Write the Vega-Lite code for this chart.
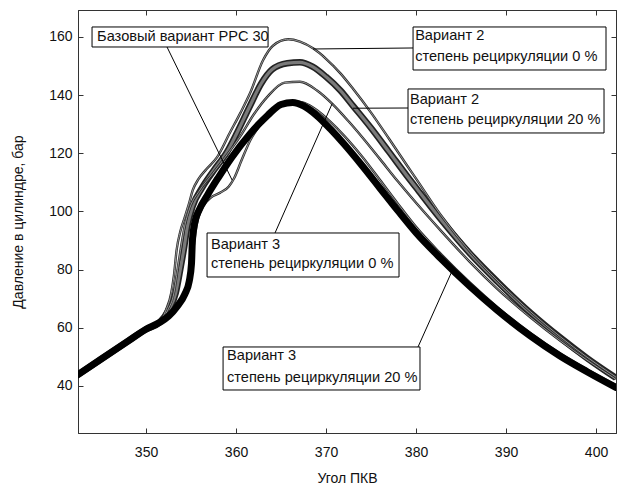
{
  "$schema": "https://vega.github.io/schema/vega-lite/v6.json",
  "width": 538,
  "height": 423,
  "autosize": {"type": "none"},
  "padding": {"left": 78, "top": 10, "right": 9, "bottom": 53},
  "background": "white",
  "config": {
    "view": {"stroke": "#333", "strokeWidth": 1},
    "font": "Liberation Sans",
    "axis": {"grid": false, "domainColor": "#333", "tickColor": "#333", "labelColor": "#111", "titleColor": "#111", "labelFontSize": 14, "titleFontSize": 14, "titleFontWeight": "normal", "labelFont": "Liberation Sans", "titleFont": "Liberation Sans"}
  },
  "datasets": {
    "curves": [
      {"s":"v3_20","a":342.4,"p":43.8},{"s":"v3_20","a":345,"p":49.2},{"s":"v3_20","a":348,"p":55.4},{"s":"v3_20","a":350,"p":59.5},{"s":"v3_20","a":351.5,"p":61.8},
      {"s":"v3_20","a":352.5,"p":64},{"s":"v3_20","a":353.5,"p":67.5},{"s":"v3_20","a":354.3,"p":71.5},{"s":"v3_20","a":354.8,"p":76},{"s":"v3_20","a":355.05,"p":82},{"s":"v3_20","a":355.15,"p":90},{"s":"v3_20","a":355.4,"p":96},{"s":"v3_20","a":355.9,"p":100.5},{"s":"v3_20","a":356.8,"p":105.5},{"s":"v3_20","a":358,"p":111.5},{"s":"v3_20","a":359.5,"p":118.5},{"s":"v3_20","a":361.5,"p":126.5},{"s":"v3_20","a":363.5,"p":133},{"s":"v3_20","a":365,"p":136.8},{"s":"v3_20","a":366.3,"p":137.5},{"s":"v3_20","a":367.5,"p":136.3},{"s":"v3_20","a":369,"p":132.9},{"s":"v3_20","a":370.5,"p":128.3},{"s":"v3_20","a":372,"p":123.2},{"s":"v3_20","a":374,"p":115.8},{"s":"v3_20","a":376,"p":108},{"s":"v3_20","a":378,"p":100.2},{"s":"v3_20","a":380,"p":92.7},{"s":"v3_20","a":382.7,"p":84},{"s":"v3_20","a":386,"p":74.2},{"s":"v3_20","a":389,"p":66.1},{"s":"v3_20","a":392.7,"p":57.2},{"s":"v3_20","a":396,"p":50.3},{"s":"v3_20","a":399,"p":44.9},{"s":"v3_20","a":402.2,"p":39.5},

      {"s":"v2_20","a":342.4,"p":43.8},{"s":"v2_20","a":345,"p":49.2},{"s":"v2_20","a":348,"p":55.4},{"s":"v2_20","a":350,"p":59.5},{"s":"v2_20","a":351.5,"p":61.8},
      {"s":"v2_20","a":352.5,"p":66},{"s":"v2_20","a":353.3,"p":72},{"s":"v2_20","a":353.8,"p":80},{"s":"v2_20","a":354.2,"p":87},{"s":"v2_20","a":354.6,"p":95},{"s":"v2_20","a":355.2,"p":102},{"s":"v2_20","a":356.2,"p":108},{"s":"v2_20","a":357.5,"p":114},{"s":"v2_20","a":359,"p":120.5},{"s":"v2_20","a":360.1,"p":127},{"s":"v2_20","a":361.5,"p":136},{"s":"v2_20","a":362.8,"p":144},{"s":"v2_20","a":364,"p":148.8},{"s":"v2_20","a":365.7,"p":151},{"s":"v2_20","a":367.1,"p":151.3},{"s":"v2_20","a":368.5,"p":149.8},{"s":"v2_20","a":370,"p":146.3},{"s":"v2_20","a":371.6,"p":141.6},{"s":"v2_20","a":373,"p":136.3},{"s":"v2_20","a":375,"p":128.7},{"s":"v2_20","a":377,"p":120.5},{"s":"v2_20","a":379,"p":112.2},{"s":"v2_20","a":380,"p":108.2},{"s":"v2_20","a":382.7,"p":97.5},{"s":"v2_20","a":386,"p":85.5},{"s":"v2_20","a":389,"p":76},{"s":"v2_20","a":392.7,"p":65.2},{"s":"v2_20","a":396,"p":56.7},{"s":"v2_20","a":399,"p":49.6},{"s":"v2_20","a":402.2,"p":42.8},

      {"s":"v2_0","a":342.4,"p":43.8},{"s":"v2_0","a":345,"p":49.2},{"s":"v2_0","a":348,"p":55.4},{"s":"v2_0","a":350,"p":59.5},{"s":"v2_0","a":351.5,"p":61.8},
      {"s":"v2_0","a":352.2,"p":66},{"s":"v2_0","a":352.8,"p":72},{"s":"v2_0","a":353.1,"p":78},{"s":"v2_0","a":353.4,"p":86.8},{"s":"v2_0","a":353.8,"p":93},{"s":"v2_0","a":354.3,"p":98},{"s":"v2_0","a":354.8,"p":103},{"s":"v2_0","a":355.2,"p":107.4},{"s":"v2_0","a":355.8,"p":111},{"s":"v2_0","a":356.7,"p":114.5},{"s":"v2_0","a":357.9,"p":118.7},{"s":"v2_0","a":359.3,"p":127},{"s":"v2_0","a":360.5,"p":134},{"s":"v2_0","a":361.6,"p":141},{"s":"v2_0","a":363,"p":152},{"s":"v2_0","a":364.1,"p":157},{"s":"v2_0","a":365.8,"p":159.2},{"s":"v2_0","a":367.1,"p":158.4},{"s":"v2_0","a":368.6,"p":156},{"s":"v2_0","a":370,"p":152.5},{"s":"v2_0","a":371.6,"p":147.5},{"s":"v2_0","a":373,"p":142.2},{"s":"v2_0","a":375,"p":134},{"s":"v2_0","a":377,"p":125},{"s":"v2_0","a":379,"p":115.8},{"s":"v2_0","a":380,"p":111.3},{"s":"v2_0","a":382.7,"p":99},{"s":"v2_0","a":386,"p":86.2},{"s":"v2_0","a":389,"p":76.4},{"s":"v2_0","a":392.7,"p":65.6},{"s":"v2_0","a":396,"p":57},{"s":"v2_0","a":399,"p":49.9},{"s":"v2_0","a":402.2,"p":43.1},

      {"s":"v3_0","a":342.4,"p":43.8},{"s":"v3_0","a":345,"p":49.2},{"s":"v3_0","a":348,"p":55.4},{"s":"v3_0","a":350,"p":59.5},{"s":"v3_0","a":351.5,"p":61.8},
      {"s":"v3_0","a":352.4,"p":66},{"s":"v3_0","a":353.1,"p":72},{"s":"v3_0","a":353.5,"p":80},{"s":"v3_0","a":353.85,"p":87},{"s":"v3_0","a":354.3,"p":95},{"s":"v3_0","a":354.9,"p":101.5},{"s":"v3_0","a":355.9,"p":107},{"s":"v3_0","a":357.4,"p":113},{"s":"v3_0","a":359,"p":119.5},{"s":"v3_0","a":360.5,"p":126},{"s":"v3_0","a":362,"p":133.5},{"s":"v3_0","a":363.5,"p":139.5},{"s":"v3_0","a":365.4,"p":144.3},{"s":"v3_0","a":367.1,"p":144.6},{"s":"v3_0","a":369,"p":141.6},{"s":"v3_0","a":370.7,"p":137},{"s":"v3_0","a":372.5,"p":131},{"s":"v3_0","a":374,"p":125.6},{"s":"v3_0","a":376,"p":118},{"s":"v3_0","a":378,"p":110.3},{"s":"v3_0","a":380,"p":103},{"s":"v3_0","a":382.7,"p":93.6},{"s":"v3_0","a":386,"p":82.6},{"s":"v3_0","a":389,"p":73.5},{"s":"v3_0","a":392.7,"p":63.6},{"s":"v3_0","a":396,"p":55.6},{"s":"v3_0","a":399,"p":48.9},{"s":"v3_0","a":402.2,"p":42.3},

      {"s":"base","a":342.4,"p":43.8},{"s":"base","a":345,"p":49.2},{"s":"base","a":348,"p":55.4},{"s":"base","a":350,"p":59.5},{"s":"base","a":351.5,"p":61.8},
      {"s":"base","a":352.5,"p":63.5},{"s":"base","a":353.6,"p":67.5},{"s":"base","a":354.5,"p":73},{"s":"base","a":355,"p":80},{"s":"base","a":355.3,"p":88},{"s":"base","a":355.6,"p":95},{"s":"base","a":356,"p":99.5},{"s":"base","a":356.4,"p":102},{"s":"base","a":357.2,"p":104.8},{"s":"base","a":358.2,"p":106.4},{"s":"base","a":359.2,"p":108.6},{"s":"base","a":359.8,"p":111.5},{"s":"base","a":360.6,"p":117.5},{"s":"base","a":361.6,"p":124.6},{"s":"base","a":362.5,"p":129},{"s":"base","a":363.4,"p":132.5},{"s":"base","a":364.3,"p":135},{"s":"base","a":365.2,"p":136.6},{"s":"base","a":366.5,"p":137.9},{"s":"base","a":367.5,"p":137.4},{"s":"base","a":369,"p":134.8},{"s":"base","a":370.5,"p":130.8},{"s":"base","a":372,"p":126.1},{"s":"base","a":374,"p":118.9},{"s":"base","a":376,"p":110.8},{"s":"base","a":378,"p":102.6},{"s":"base","a":380,"p":94.7},{"s":"base","a":382.7,"p":85.6},{"s":"base","a":386,"p":75.5},{"s":"base","a":389,"p":67.2},{"s":"base","a":392.7,"p":58.2},{"s":"base","a":396,"p":51.2},{"s":"base","a":399,"p":45.7},{"s":"base","a":402.2,"p":40.3}
    ],
    "boxes": [
      {"a":344.0,"a2":363.56,"p":163.44,"p2":156.56},
      {"a":379.67,"a2":401.11,"p":163.44,"p2":148.65},
      {"a":379.11,"a2":400.89,"p":142.12,"p2":126.99},
      {"a":356.78,"a2":378.11,"p":92.6,"p2":77.47},
      {"a":358.56,"a2":380.44,"p":53.4,"p2":38.61}
    ],
    "links": [
      {"a":352.33,"p":156.56,"a2":359.56,"p2":110.83},
      {"a":379.67,"p":156.22,"a2":368.56,"p2":155.87},
      {"a":379.11,"p":135.58,"a2":373.0,"p2":135.5},
      {"a":364.33,"p":92.6,"a2":370.67,"p2":137.0},
      {"a":380.22,"p":53.4,"a2":384.0,"p2":79.5}
    ],
    "labels": [
      {"t":"Базовый вариант РРС 30","a":344.56,"p":160.0},
      {"t":"Вариант 2","a":379.9,"p":160.34},
      {"t":"степень рециркуляции 0 %","a":379.9,"p":152.95},
      {"t":"Вариант 2","a":379.33,"p":138.34},
      {"t":"степень рециркуляции 20 %","a":379.33,"p":131.46},
      {"t":"Вариант 3","a":357.22,"p":88.64},
      {"t":"степень рециркуляции 0 %","a":357.22,"p":81.94},
      {"t":"Вариант 3","a":359.0,"p":50.3},
      {"t":"степень рециркуляции 20 %","a":359.0,"p":42.74}
    ]
  },
  "resolve": {"axis": {"x": "independent", "y": "independent"}},
  "layer": [
    {
      "data": {"name": "curves"},
      "transform": [{"filter": "datum.s === 'v2_20'"}],
      "mark": {"type": "line", "clip": true, "color": "#222", "strokeWidth": 6.5, "strokeJoin": "round", "interpolate": "monotone"},
      "encoding": {
        "x": {"field": "a", "type": "quantitative", "scale": {"domain": [342.44, 402.22], "nice": false, "zero": false},
          "axis": {"orient": "bottom", "values": [350, 360, 370, 380, 390, 400], "tickSize": -5, "labelPadding": 17, "title": "Угол ПКВ", "titlePadding": 12}},
        "y": {"field": "p", "type": "quantitative", "scale": {"domain": [23.82, 169.28], "nice": false, "zero": false},
          "axis": {"orient": "left", "values": [40, 60, 80, 100, 120, 140, 160], "tickSize": -5, "labelPadding": 11, "title": "Давление в цилиндре, бар", "titlePadding": 23}},
        "order": {"field": "a", "type": "quantitative"}
      }
    },
    {
      "data": {"name": "curves"},
      "transform": [{"filter": "datum.s === 'v2_20'"}],
      "mark": {"type": "line", "clip": true, "color": "#7a7a7a", "strokeWidth": 3.2, "strokeJoin": "round", "interpolate": "monotone"},
      "encoding": {
        "x": {"field": "a", "type": "quantitative",
          "axis": {"orient": "top", "values": [350, 360, 370, 380, 390, 400], "tickSize": -5, "labels": false, "title": null}},
        "y": {"field": "p", "type": "quantitative",
          "axis": {"orient": "right", "values": [40, 60, 80, 100, 120, 140, 160], "tickSize": -5, "labels": false, "title": null}},
        "order": {"field": "a", "type": "quantitative"}
      }
    },
    {
      "data": {"name": "curves"},
      "transform": [{"filter": "datum.s === 'v2_0' || datum.s === 'v3_0' || datum.s === 'base'"}],
      "mark": {"type": "line", "clip": true, "color": "#2a2a2a", "strokeWidth": 2.4, "strokeJoin": "round", "interpolate": "monotone"},
      "encoding": {
        "x": {"field": "a", "type": "quantitative", "axis": null},
        "y": {"field": "p", "type": "quantitative", "axis": null},
        "detail": {"field": "s"},
        "order": {"field": "a", "type": "quantitative"}
      }
    },
    {
      "data": {"name": "curves"},
      "transform": [{"filter": "datum.s === 'v2_0' || datum.s === 'v3_0' || datum.s === 'base'"}],
      "mark": {"type": "line", "clip": true, "color": "#b0b0b0", "strokeWidth": 0.8, "strokeJoin": "round", "interpolate": "monotone"},
      "encoding": {
        "x": {"field": "a", "type": "quantitative", "axis": null},
        "y": {"field": "p", "type": "quantitative", "axis": null},
        "detail": {"field": "s"},
        "order": {"field": "a", "type": "quantitative"}
      }
    },
    {
      "data": {"name": "curves"},
      "transform": [{"filter": "datum.s === 'v3_20'"}],
      "mark": {"type": "line", "clip": true, "color": "#000", "strokeWidth": 7, "strokeJoin": "round", "strokeCap": "round", "interpolate": "monotone"},
      "encoding": {
        "x": {"field": "a", "type": "quantitative", "axis": null},
        "y": {"field": "p", "type": "quantitative", "axis": null},
        "order": {"field": "a", "type": "quantitative"}
      }
    },
    {
      "data": {"name": "links"},
      "mark": {"type": "rule", "color": "#000", "strokeWidth": 1},
      "encoding": {
        "x": {"field": "a", "type": "quantitative", "axis": null},
        "y": {"field": "p", "type": "quantitative", "axis": null},
        "x2": {"field": "a2"},
        "y2": {"field": "p2"}
      }
    },
    {
      "data": {"name": "boxes"},
      "mark": {"type": "rect", "fill": "white", "stroke": "#000", "strokeWidth": 1},
      "encoding": {
        "x": {"field": "a", "type": "quantitative", "axis": null},
        "x2": {"field": "a2"},
        "y": {"field": "p", "type": "quantitative", "axis": null},
        "y2": {"field": "p2"}
      }
    },
    {
      "data": {"name": "labels"},
      "mark": {"type": "text", "align": "left", "baseline": "middle", "fontSize": 14.6, "font": "Liberation Sans", "color": "#111"},
      "encoding": {
        "x": {"field": "a", "type": "quantitative", "axis": null},
        "y": {"field": "p", "type": "quantitative", "axis": null},
        "text": {"field": "t"}
      }
    }
  ]
}
